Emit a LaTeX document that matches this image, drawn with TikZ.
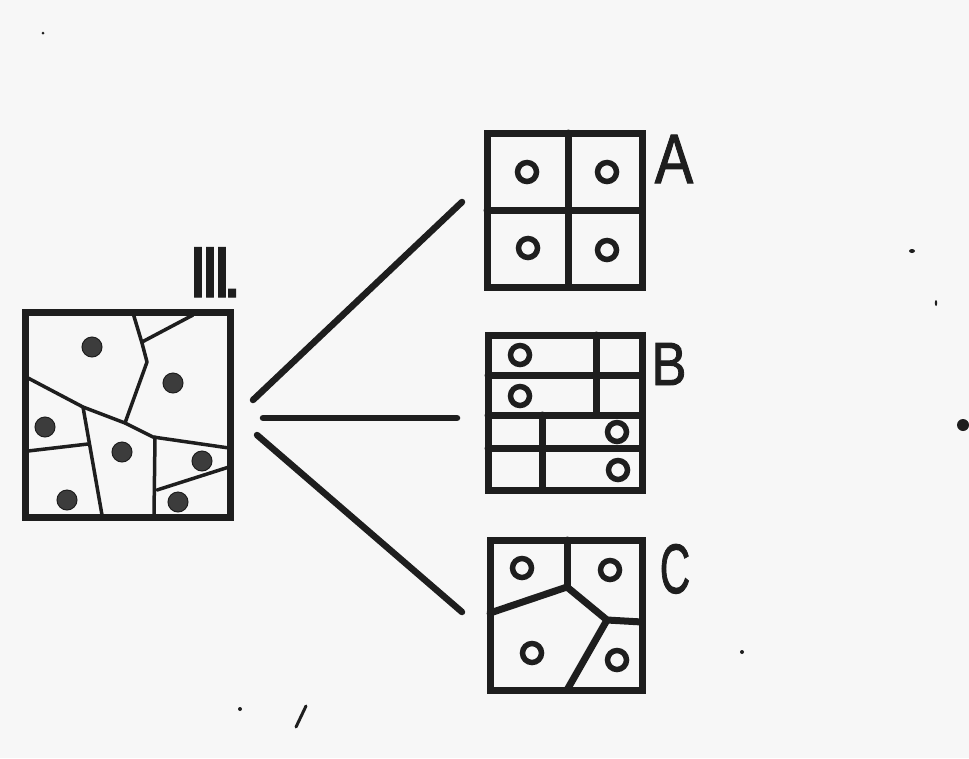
\documentclass[tikz,border=0pt]{standalone}
\usepackage{fontspec}
\setmainfont{Liberation Sans}
\newfontfamily\labfont[FakeBold=1.6]{Liberation Sans}
\definecolor{paper}{RGB}{247,247,247}
\definecolor{ink}{RGB}{30,30,30}
\definecolor{dotc}{RGB}{60,60,60}
\begin{document}
\begin{tikzpicture}[x=1pt,y=-1pt,
  frame/.style={draw=ink, line width=7pt, inner sep=0pt, outer sep=0pt},
  thin/.style={draw=ink, line width=3.5pt, line cap=round, line join=round},
  wall/.style={draw=ink, line width=7pt, line cap=round, line join=round},
  spoke/.style={draw=ink, line width=6.5pt, line cap=round},
  ring/.style={draw=ink, line width=5.5pt},
  grain/.style={fill=dotc, draw=ink, line width=1pt},
  lab/.style={text=ink, inner sep=0pt, outer sep=0pt},
  speck/.style={fill=ink}]
\fill[paper] (0,0) rectangle (969,758);
\useasboundingbox (0,0) rectangle (969,758);

% ---------- left box (III) ----------
\draw[thin] (133,313) -- (142,343) -- (147,362) -- (125,423);
\draw[thin] (142,342) -- (193,315);
\draw[thin] (28,378) -- (83,407) -- (125,423) -- (153,437) -- (229,448);
\draw[thin] (83,407) -- (102,515);
\draw[thin] (28,451) -- (88,444);
\draw[thin] (155,437) -- (154,515);
\draw[thin] (157,490) -- (229,467);
\node[frame, minimum width=205pt, minimum height=205pt] (III) at (127.5,414.5) {};
\foreach \p in {(92,347),(173,383),(45,427),(122,452),(202,461),(67,500),(178,502)}
  \filldraw[grain] \p circle[radius=10pt];
\node[lab, anchor=base west, font=\labfont\fontsize{72}{72}\selectfont] (lIII) at (188,297)
  {I\kern-8ptI\kern-8ptI\kern-10pt.};

% ---------- box A ----------
\node[frame, minimum width=155pt, minimum height=154pt] (A) at (564.5,210) {};
\draw[wall] (568,133) -- (568,287);
\draw[wall] (487,210) -- (642,210);
\foreach \p in {(527,172),(607,172),(528,248),(607,250)}
  \draw[ring] \p circle[radius=9.5pt];
\node[lab, anchor=base, font=\labfont\fontsize{70}{70}\selectfont] (lA) at (674,183) {\scalebox{0.82}[1]{A}};

% ---------- box B ----------
\node[frame, minimum width=154pt, minimum height=155pt] (B) at (565,412.5) {};
\draw[wall] (488,375) -- (642,375);
\draw[wall] (488,415) -- (642,415);
\draw[wall] (488,448) -- (642,448);
\draw[wall] (596,335) -- (596,415);
\draw[wall] (542,415) -- (542,490);
\foreach \p in {(520,355),(520,396),(617,432),(618,470)}
  \draw[ring, fill=paper] \p circle[radius=9.5pt];
\node[lab, anchor=base, font=\labfont\fontsize{61}{61}\selectfont] (lB) at (669,385) {\scalebox{0.86}[1]{B}};

% ---------- box C ----------
\node[frame, minimum width=152pt, minimum height=150pt] (C) at (566,615) {};
\draw[wall] (567,540) -- (567,587);
\draw[wall] (490,613) -- (567,587) -- (607,620) -- (642,622);
\draw[wall] (607,620) -- (567,690);
\foreach \p in {(522,568),(610,570),(532,653),(617,660)}
  \draw[ring] \p circle[radius=9.5pt];
\node[lab, anchor=base, font=\labfont\fontsize{70}{70}\selectfont] (lC) at (675,593) {\scalebox{0.6}[1]{C}};

% ---------- spokes ----------
\coordinate (s1a) at (253,400); \coordinate (s1b) at (462,202);
\coordinate (s2a) at (263,418); \coordinate (s2b) at (457,418);
\coordinate (s3a) at (257,435); \coordinate (s3b) at (462,612);
\draw[spoke] (s1a) -- (s1b);
\draw[spoke] (s2a) -- (s2b);
\draw[spoke] (s3a) -- (s3b);

% ---------- specks ----------
\fill[speck] (963,425) circle[radius=6pt];
\fill[speck] (912,251) ellipse[x radius=3pt, y radius=2pt];
\fill[speck] (936,303) ellipse[x radius=1.2pt, y radius=3pt];
\fill[speck] (240,709) circle[radius=2pt];
\fill[speck] (742,652) circle[radius=2pt];
\fill[speck] (43,33) circle[radius=1.5pt];
\draw[ink, line width=3pt, line cap=round] (296,727) -- (306,706);
\end{tikzpicture}
\end{document}
